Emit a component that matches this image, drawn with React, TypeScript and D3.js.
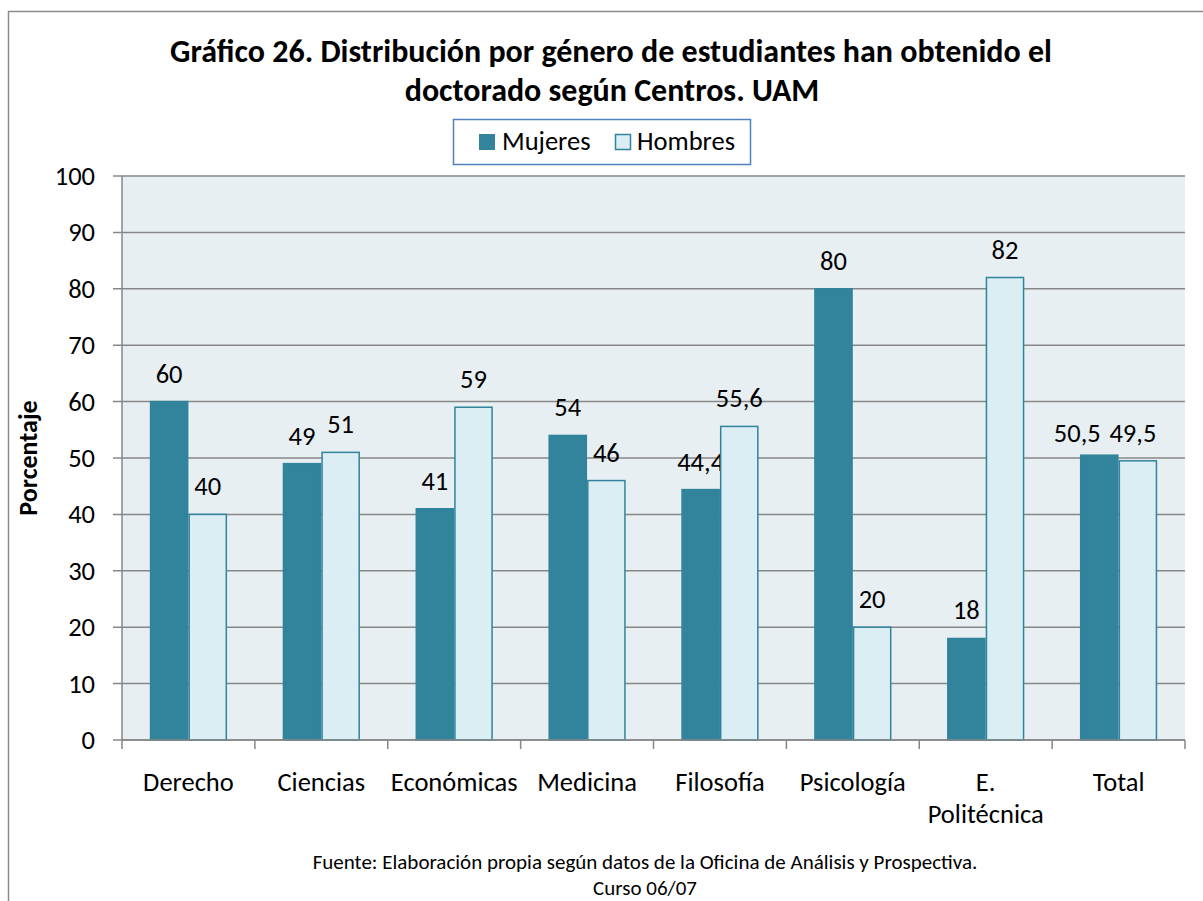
import React from "react";
import * as d3 from "d3";

const categories = ["Derecho", "Ciencias", "Económicas", "Medicina", "Filosofía", "Psicología", "E. Politécnica", "Total"];
const categoryLines = [["Derecho"], ["Ciencias"], ["Económicas"], ["Medicina"], ["Filosofía"], ["Psicología"], ["E.", "Politécnica"], ["Total"]];
const series = ["Mujeres", "Hombres"];
const mujeres = [60, 49, 41, 54, 44.4, 80, 18, 50.5];
const hombres = [40, 51, 59, 46, 55.6, 20, 82, 49.5];
const yTicks = [0, 10, 20, 30, 40, 50, 60, 70, 80, 90, 100];

const W = 1203;
const H = 901;
const FONT = "Carlito, Calibri, Lato, sans-serif";
const DARK = "#31849B";
const LIGHT = "#DAEEF3";
const GRID = "#878787";
const FS = 26.5; // main label size

const fmt = (v: number) => String(v).replace(".", ",");

// labels that were dragged by hand in the original so they don't collide
const nudge: Record<string, [number, number][]> = {
    Total: [
        [-22, 6],
        [-5, 0],
    ],
};

export default function App() {
    const plot = { left: 122, right: 1185, top: 176, bottom: 740 };

    const x0 = d3.scaleBand().domain(categories).range([plot.left, plot.right]).padding(0);
    const x1 = d3
        .scaleBand()
        .domain(series)
        .range([0, x0.bandwidth()])
        .paddingInner(0)
        .paddingOuter(0.72);
    const y = d3.scaleLinear().domain([0, 100]).range([plot.bottom, plot.top]);

    const rows = categories.map((c, i) => ({ c, i, vals: [mujeres[i], hombres[i]] }));

    return (
        <svg width={W} height={H} style={{ position: "absolute", left: 0, top: 0 }} fontFamily={FONT}>
            <rect x={0} y={0} width={W} height={H} fill="#fff" />
            {/* outer frame */}
            <path d={`M8.5,${H} V11.5 H${W}`} fill="none" stroke="#8c8c8c" strokeWidth={1.5} />

            {/* title */}
            <text x={611} y={62} textAnchor="middle" fontWeight="bold" fontSize={32}>
                Gráfico 26. Distribución por género de estudiantes han obtenido el
            </text>
            <text x={612} y={101} textAnchor="middle" fontWeight="bold" fontSize={32}>
                doctorado según Centros. UAM
            </text>

            {/* legend */}
            <rect x={453.5} y={119.5} width={297} height={45} fill="#fff" stroke="#4F81BD" strokeWidth={1.5} />
            <rect x={479.5} y={134.5} width={15} height={15} fill={DARK} stroke={DARK} />
            <text x={502} y={150} fontSize={FS}>Mujeres</text>
            <rect x={615.5} y={134.5} width={15} height={15} fill={LIGHT} stroke={DARK} strokeWidth={1.5} />
            <text x={637} y={150} fontSize={FS}>Hombres</text>

            {/* plot area */}
            <rect x={plot.left} y={plot.top} width={plot.right - plot.left} height={plot.bottom - plot.top} fill="#E8EFF3" />
            {yTicks.map((t) => (
                <g key={t}>
                    <line x1={113} x2={plot.right} y1={y(t)} y2={y(t)} stroke={GRID} strokeWidth={1.5} />
                    <text x={95} y={y(t)} dy="0.34em" textAnchor="end" fontSize={FS}>
                        {t}
                    </text>
                </g>
            ))}
            <line x1={plot.left} x2={plot.left} y1={plot.top} y2={plot.bottom} stroke={GRID} strokeWidth={1.5} />
            {d3.range(categories.length + 1).map((i) => {
                const xx = plot.left + i * x0.step();
                return <line key={i} x1={xx} x2={xx} y1={plot.bottom} y2={749} stroke={GRID} strokeWidth={1.5} />;
            })}

            {/* bars */}
            {rows.map((r) => (
                <g key={r.c} transform={`translate(${x0(r.c)},0)`}>
                    {r.vals.map((v, j) => {
                        const bx = x1(series[j])!;
                        const [dx, dy] = nudge[r.c]?.[j] ?? [0, 0];
                        return (
                            <g key={j}>
                                <rect
                                    x={bx + 0.75}
                                    y={y(v)}
                                    width={x1.bandwidth() - 1.5}
                                    height={y(0) - y(v)}
                                    fill={j === 0 ? DARK : LIGHT}
                                    stroke={DARK}
                                    strokeWidth={1.5}
                                />
                                <text
                                    x={bx + x1.bandwidth() / 2 + dx}
                                    y={y(v) - 19 + dy}
                                    textAnchor="middle"
                                    fontSize={FS}
                                >
                                    {fmt(v)}
                                </text>
                            </g>
                        );
                    })}
                </g>
            ))}
            <line x1={plot.left} x2={plot.right} y1={plot.bottom} y2={plot.bottom} stroke={GRID} strokeWidth={1.5} />

            {/* category labels */}
            {rows.map((r) => (
                <text key={r.c} x={x0(r.c)! + x0.bandwidth() / 2} y={791} textAnchor="middle" fontSize={FS}>
                    {categoryLines[r.i].map((l, k) => (
                        <tspan key={k} x={x0(r.c)! + x0.bandwidth() / 2} dy={k === 0 ? 0 : 32}>
                            {l}
                        </tspan>
                    ))}
                </text>
            ))}

            {/* y axis title */}
            <text transform="translate(37,458) rotate(-90)" textAnchor="middle" fontWeight="bold" fontSize={26}>
                Porcentaje
            </text>

            {/* source */}
            <text x={645} y={869} textAnchor="middle" fontSize={21}>
                Fuente: Elaboración propia según datos de la Oficina de Análisis y Prospectiva.
            </text>
            <text x={645} y={895} textAnchor="middle" fontSize={21}>
                Curso 06/07
            </text>
        </svg>
    );
}
